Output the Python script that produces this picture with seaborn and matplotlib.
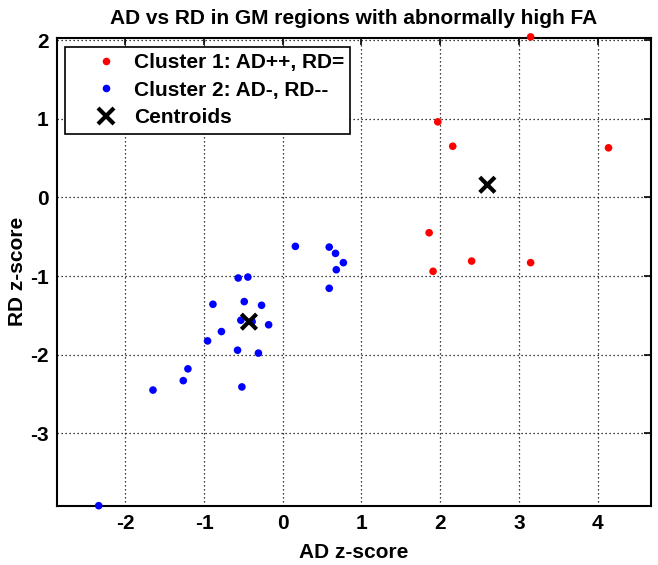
import matplotlib
matplotlib.use("Agg")
import matplotlib.pyplot as plt
import seaborn as sns
import pandas as pd

# Cluster 1 (red)
c1_ad = [3.15, 1.97, 2.16, 4.14, 1.86, 1.91, 2.40, 3.15]
c1_rd = [2.04, 0.96, 0.65, 0.63, -0.45, -0.94, -0.81, -0.83]
# Cluster 2 (blue)
c2_ad = [-0.567, -0.444, -0.888, -0.49, -0.27, -0.533, -0.39, -0.18, -0.78, -0.956,
         -0.575, -0.31, -1.206, -1.265, -1.65, -0.52, -2.34,
         0.16, 0.59, 0.67, 0.77, 0.68, 0.59]
c2_rd = [-1.025, -1.013, -1.359, -1.325, -1.372, -1.562, -1.58, -1.62, -1.706, -1.825,
         -1.943, -1.98, -2.18, -2.33, -2.45, -2.41, -3.92,
         -0.623, -0.632, -0.712, -0.83, -0.92, -1.156]
# Centroids
cent_ad = [2.60, -0.43]
cent_rd = [0.16, -1.58]

labels = ["Cluster 1: AD++, RD=", "Cluster 2: AD-, RD--", "Centroids"]
xticks = [-2, -1, 0, 1, 2, 3, 4]
yticks = [-3, -2, -1, 0, 1, 2]

sns.set_style("white")
plt.rcParams["font.family"] = ["Liberation Sans", "DejaVu Sans"]
plt.rcParams["font.weight"] = "bold"
plt.rcParams["axes.unicode_minus"] = False
plt.rcParams["text.color"] = "black"
plt.rcParams["axes.labelcolor"] = "black"
plt.rcParams["xtick.color"] = "black"
plt.rcParams["ytick.color"] = "black"

df = pd.DataFrame({
    "AD": c1_ad + c2_ad,
    "RD": c1_rd + c2_rd,
    "cluster": [labels[0]] * len(c1_ad) + [labels[1]] * len(c2_ad),
})
dc = pd.DataFrame({"AD": cent_ad, "RD": cent_rd, "cluster": [labels[2]] * len(cent_ad)})

fig = plt.figure(figsize=(6.58, 5.65), dpi=100)
ax = fig.add_axes([57 / 658, 1 - 505.7 / 565, 594 / 658, 468 / 565])

sns.scatterplot(data=df, x="AD", y="RD", hue="cluster",
                palette={labels[0]: "#ff0000", labels[1]: "#0000ff"},
                s=30, linewidth=0, ax=ax, zorder=3, clip_on=False)
sns.scatterplot(data=dc, x="AD", y="RD", hue="cluster", palette={labels[2]: "black"},
                marker="x", s=120, linewidth=3, ax=ax, zorder=4, clip_on=False)

ax.set_xlim(-2.87, 4.68)
ax.set_ylim(-3.92, 2.03)
ax.set_xticks(xticks)
ax.set_yticks(yticks)
ax.tick_params(direction="in", length=5, width=1.2, top=True, right=True,
               labelsize=15, pad=6, colors="black")
for lab in ax.get_xticklabels() + ax.get_yticklabels():
    lab.set_fontweight("bold")
ax.grid(True, linestyle=(0, (1, 2.2)), color="black", linewidth=0.9)
ax.set_axisbelow(True)
for sp in ax.spines.values():
    sp.set_visible(True)
    sp.set_color("black")
    sp.set_linewidth(1.5)

ax.set_xlabel("AD z-score", fontsize=15, fontweight="bold", labelpad=7, color="black")
ax.set_ylabel("RD z-score", fontsize=15, fontweight="bold", labelpad=2, color="black")
ax.set_title("AD vs RD in GM regions with abnormally high FA", fontsize=15,
             fontweight="bold", pad=10, color="black")

handles, hl = ax.get_legend_handles_labels()
leg = ax.legend(handles, hl, loc="upper left", bbox_to_anchor=(0.0135, 0.981),
                borderaxespad=0, fancybox=False, framealpha=1, edgecolor="black",
                prop={"size": 15, "weight": "bold"}, handletextpad=-0.3,
                labelspacing=0.42, borderpad=0.3, handlelength=3.3,
                labelcolor="black")
leg.get_frame().set_linewidth(1.2)

fig.savefig("out.png", dpi=100)
